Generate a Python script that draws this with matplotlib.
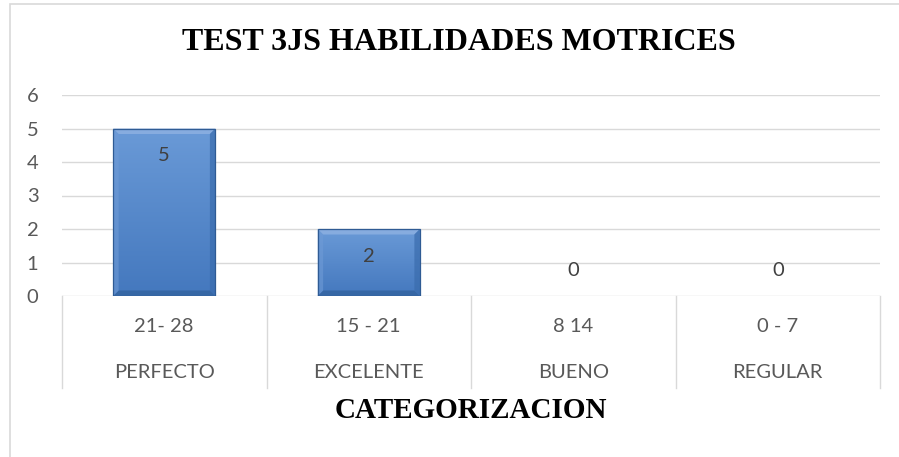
import numpy as np
import matplotlib.pyplot as plt
import matplotlib.transforms as mtransforms
from matplotlib.patches import Rectangle, Polygon
from matplotlib.colors import LinearSegmentedColormap

# datos del grafico
rangos = ['21- 28', '15 - 21', '8 14', '0 - 7']
niveles = ['PERFECTO', 'EXCELENTE', 'BUENO', 'REGULAR']
cantidad = [5, 2, 0, 0]

gris = '#595959'
linea = '#d9d9d9'
fuente = 'Lato'
tam = 14.5

fig = plt.figure(figsize=(8.99, 4.57), dpi=100)
ax = fig.add_axes([62/899, 161/457, 818/899, 201/457])
ax.set_xlim(-0.5, 3.5)
ax.set_ylim(0, 6)

ax.set_yticks(range(7))
ax.set_yticklabels([str(i) for i in range(7)], fontfamily=fuente, fontsize=tam, color=gris)
ax.tick_params(axis='y', length=0, pad=17)
ax.set_xticks([])
ax.yaxis.grid(True, color=linea, lw=1.0)
ax.set_axisbelow(True)
for s in ax.spines.values():
    s.set_visible(False)

# bisel: convertir pixeles a unidades de datos
p0 = ax.transData.transform((0, 0))
p1 = ax.transData.transform((1, 1))
bev = 5.5
dx = bev / (p1[0] - p0[0])
dy = bev / (p1[1] - p0[1])

cmap = LinearSegmentedColormap.from_list('azul', ['#4478be', '#6a9ad7'])
ancho = 0.5
for i, v in enumerate(cantidad):
    if v > 0:
        b = ax.bar(i, v, width=ancho, color='none', edgecolor='none', zorder=2)[0]
        x0, x1 = i - ancho/2, i + ancho/2
        grad = np.linspace(0, 1, 100).reshape(-1, 1)
        im = ax.imshow(grad, extent=(x0, x1, 0, v), origin='lower', aspect='auto',
                       cmap=cmap, zorder=2)
        im.set_clip_path(b)
        ax.add_patch(Polygon([(x0, v), (x1, v), (x1 - dx, v - dy), (x0 + dx, v - dy)],
                             closed=True, fc='#8fb2e2', ec='none', alpha=0.8, zorder=3))
        ax.add_patch(Polygon([(x0, 0), (x1, 0), (x1 - dx, dy), (x0 + dx, dy)],
                             closed=True, fc='#33639f', ec='none', alpha=0.8, zorder=3))
        ax.add_patch(Polygon([(x0, 0), (x0, v), (x0 + dx, v - dy), (x0 + dx, dy)],
                             closed=True, fc='#6f9bd6', ec='none', alpha=0.6, zorder=3))
        ax.add_patch(Polygon([(x1, 0), (x1, v), (x1 - dx, v - dy), (x1 - dx, dy)],
                             closed=True, fc='#3a6cad', ec='none', alpha=0.7, zorder=3))
        ax.add_patch(Rectangle((x0, 0), ancho, v, fill=False, ec='#2f5b94', lw=0.9, zorder=4))
        ax.annotate(str(v), (i, v), xytext=(0, -19.5), textcoords='offset points',
                    ha='center', va='center', fontsize=tam, color='#404040',
                    fontfamily=fuente, zorder=5)
    else:
        ax.annotate(str(v), (i, 0), xytext=(0, 18), textcoords='offset points',
                    ha='center', va='center', fontsize=tam, color='#404040',
                    fontfamily=fuente)

# eje de categorias en dos niveles
trans = mtransforms.blended_transform_factory(ax.transData, ax.transAxes)
for b in np.arange(-0.5, len(cantidad), 1.0):
    ax.plot([b, b], [0, -0.458], transform=trans, clip_on=False, color=linea, lw=1.0)
for i in range(len(cantidad)):
    ax.text(i, -0.154, rangos[i], transform=trans, ha='center', va='center',
            fontsize=tam, color=gris, fontfamily=fuente)
    ax.text(i, -0.383, niveles[i], transform=trans, ha='center', va='center',
            fontsize=tam, color=gris, fontfamily=fuente)

fig.text(459/899, 1 - 43/457, 'TEST 3JS HABILIDADES MOTRICES', ha='center', va='center',
         fontsize=23, fontweight='bold', fontfamily='Liberation Serif', color='black')
fig.text(471/899, 1 - 410/457, 'CATEGORIZACION', ha='center', va='center',
         fontsize=21, fontweight='bold', fontfamily='Liberation Serif', color='black')

fig.add_artist(Rectangle((10/899, -0.1), 2, 1.1 - 4/457, transform=fig.transFigure,
                         fill=False, ec=linea, lw=1.2))

fig.savefig('out.png', dpi=100)
